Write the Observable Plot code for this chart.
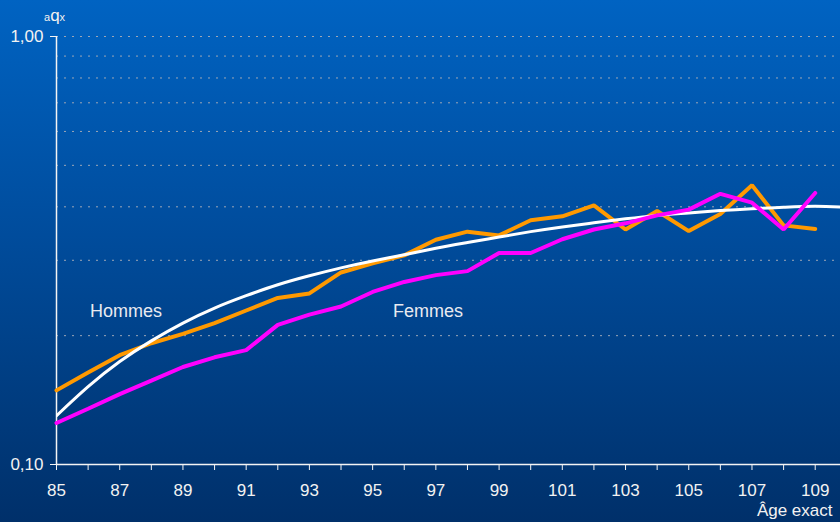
<!DOCTYPE html>
<html>
<head>
<meta charset="utf-8">
<script src="https://cdn.jsdelivr.net/npm/d3@7"></script>
<script src="https://cdn.jsdelivr.net/npm/@observablehq/plot@0.6"></script>
<style>
  html, body { margin: 0; padding: 0; }
  #wrap {
    position: relative; width: 840px; height: 522px; overflow: hidden;
    background: linear-gradient(to bottom, #0063c2 0%, #004c9c 45%, #00306a 100%);
    font-family: "Liberation Sans", Arial, sans-serif;
  }
  #ylab { position: absolute; left: 44px; top: 6px; color: #f0f0f0; white-space: nowrap; }
  #ylab .s { font-size: 11px; }
  #ylab .q { font-size: 17px; }
</style>
</head>
<body>
<div id="wrap">
  <div id="ylab"><span class="s">a</span><span class="q">q</span><span class="s">x</span></div>
</div>
<script>
// Ages (exact age)
const ages = [85, 86, 87, 88, 89, 90, 91, 92, 93, 94, 95, 96, 97, 98, 99, 100, 101, 102, 103, 104, 105, 106, 107, 108, 109];
// Observed quotients, men
const hommes = [0.149, 0.164, 0.180, 0.192, 0.202, 0.214, 0.229, 0.245, 0.251, 0.281, 0.295, 0.308, 0.335, 0.350, 0.343, 0.372, 0.380, 0.403, 0.354, 0.391, 0.351, 0.385, 0.449, 0.362, 0.355];
// Observed quotients, women
const femmes = [0.125, 0.135, 0.146, 0.157, 0.169, 0.178, 0.185, 0.212, 0.224, 0.234, 0.253, 0.267, 0.277, 0.283, 0.312, 0.312, 0.336, 0.354, 0.366, 0.382, 0.394, 0.429, 0.409, 0.354, 0.431];
// Fitted curve
const modelAges = [85, 86, 87, 88, 89, 90, 91, 92, 93, 94, 95, 96, 97, 98, 99, 100, 101, 102, 103, 104, 105, 106, 107, 108, 109, 110];
const modele = [0.130, 0.152, 0.174, 0.1945, 0.214, 0.232, 0.248, 0.263, 0.276, 0.288, 0.299, 0.309, 0.320, 0.330, 0.340, 0.350, 0.359, 0.367, 0.375, 0.382, 0.387, 0.392, 0.396, 0.399, 0.401, 0.399];
// Axis ticks
const xTickAges = ages;
const xLabelAges = [85, 87, 89, 91, 93, 95, 97, 99, 101, 103, 105, 107, 109];
const yTicks = [0.1, 1.0];
const yGrid = [0.2, 0.3, 0.4, 0.5, 0.6, 0.7, 0.8, 0.9, 1.0];
// Series labels
const seriesLabels = ["Hommes", "Femmes"];
const labelAges = [87.2, 96.75];
const labelQ = [0.2285, 0.2285];

const hData = ages.map((a, i) => ({age: a, q: hommes[i]}));
const fData = ages.map((a, i) => ({age: a, q: femmes[i]}));
const mData = modelAges.map((a, i) => ({age: a, q: modele[i]}));
const lData = seriesLabels.map((t, i) => ({t, age: labelAges[i], q: labelQ[i]}));

const fmt = d => d.toFixed(2).replace(".", ",");

const chart = Plot.plot({
  width: 840, height: 522,
  marginLeft: 56, marginRight: 0, marginTop: 36, marginBottom: 58,
  style: {background: "transparent", color: "#f2f2f2", fontFamily: "'Liberation Sans', Arial, sans-serif", fontSize: "17px"},
  x: {domain: [85, 109.8]},
  y: {type: "log", domain: [0.1, 1]},
  marks: [
    Plot.gridY(yGrid, {stroke: "#9ca6b6", strokeOpacity: 1, strokeWidth: 1, strokeDasharray: "2,6"}),
    Plot.ruleX([85], {stroke: "#f4f4f4", strokeWidth: 1.5}),
    Plot.ruleY([0.1], {stroke: "#f4f4f4", strokeWidth: 1.5}),
    Plot.axisY(yTicks, {tickSize: 6, tickPadding: 7, tickFormat: fmt, label: null, stroke: "#f4f4f4", fontSize: 17}),
    Plot.axisX(xTickAges, {tickSize: 6, tickFormat: () => "", label: null, stroke: "#f4f4f4"}),
    Plot.axisX(xLabelAges, {tickSize: 0, tickPadding: 19, label: null, fontSize: 17}),
    Plot.line(hData, {x: "age", y: "q", stroke: "#ff9900", strokeWidth: 4, strokeLinejoin: "miter"}),
    Plot.line(mData, {x: "age", y: "q", stroke: "#ffffff", strokeWidth: 3, curve: "natural", clip: true}),
    Plot.line(fData, {x: "age", y: "q", stroke: "#ff00ff", strokeWidth: 4, strokeLinejoin: "miter"}),
    Plot.text(lData, {x: "age", y: "q", text: "t", fill: "#e8eaf0", fontSize: 18}),
    Plot.text(["Âge exact"], {frameAnchor: "bottom-right", dx: -8, dy: 51, textAnchor: "end", fill: "#f2f2f2", fontSize: 17})
  ]
});
document.getElementById("wrap").appendChild(chart);
</script>
</body>
</html>
